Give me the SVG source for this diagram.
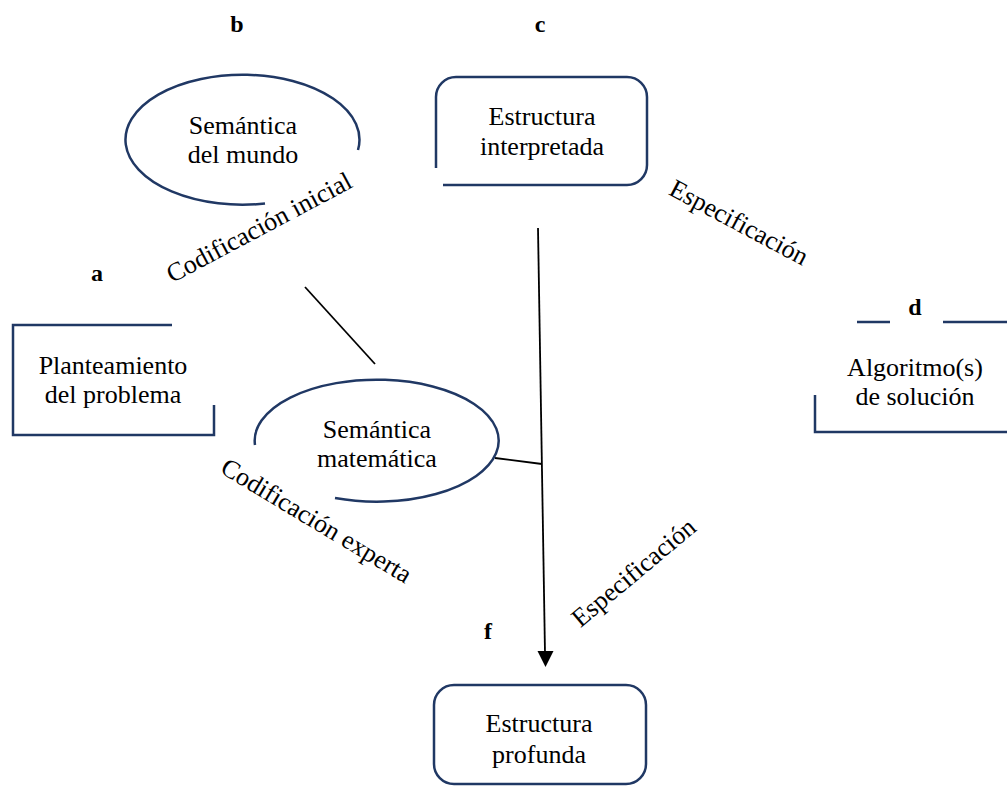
<svg xmlns="http://www.w3.org/2000/svg" width="1007" height="787" viewBox="0 0 1007 787" font-family="Liberation Serif, serif">
<style>
.shape{fill:none;stroke:#203864;stroke-width:2.5}
.conn{fill:none;stroke:#000;stroke-width:1.8}
.txt{font-family:'Liberation Serif',serif;font-size:26px;fill:#000;text-anchor:middle}
.lab{font-family:'Liberation Serif',serif;font-size:24px;font-weight:bold;fill:#000;text-anchor:middle}
</style>
<rect width="1007" height="787" fill="#fff"/>
<g id="connectors">
<line class="conn" x1="305" y1="287" x2="375" y2="364"/>
<line class="conn" x1="495" y1="458" x2="542" y2="464"/>
<line class="conn" x1="538" y1="228" x2="545" y2="653"/>
<polygon points="537.5,651 553.5,651 545.5,667" fill="#000"/>
<text class="txt" font-family="Liberation Serif" transform="translate(263,235) rotate(-28)">Codificación inicial</text>
<text class="txt" font-family="Liberation Serif" transform="translate(735,230) rotate(28)">Especificación</text>
<text class="txt" font-family="Liberation Serif" transform="translate(312,528) rotate(31)">Codificación experta</text>
<text class="txt" font-family="Liberation Serif" transform="translate(639,579) rotate(-40)">Especificación</text>
</g>
<g id="node-a">
<path class="shape" d="M172,325 H13 V435 H214 V405"/>
<text class="lab" font-family="Liberation Serif" x="97" y="281">a</text>
<text class="txt" font-family="Liberation Serif" x="113" y="374">Planteamiento</text>
<text class="txt" font-family="Liberation Serif" x="113" y="403">del problema</text>
</g>
<g id="node-b">
<path class="shape" d="M358,150 A117,65 0 1 0 265,203.5"/>
<text class="lab" font-family="Liberation Serif" x="237" y="32">b</text>
<text class="txt" font-family="Liberation Serif" x="243" y="134">Semántica</text>
<text class="txt" font-family="Liberation Serif" x="243" y="163">del mundo</text>
</g>
<g id="node-c">
<path class="shape" d="M443,185 H627 A20,20 0 0 0 647,165 V97 A20,20 0 0 0 627,77 H456 A20,20 0 0 0 436,97 V168"/>
<text class="lab" font-family="Liberation Serif" x="540" y="32">c</text>
<text class="txt" font-family="Liberation Serif" x="542" y="125">Estructura</text>
<text class="txt" font-family="Liberation Serif" x="542" y="155">interpretada</text>
</g>
<g id="node-d">
<path class="shape" d="M857,322 H890 M943,322 H1007 M815,395 V432 H1007"/>
<text class="lab" font-family="Liberation Serif" x="915" y="315">d</text>
<text class="txt" font-family="Liberation Serif" x="915" y="376">Algoritmo(s)</text>
<text class="txt" font-family="Liberation Serif" x="915" y="405">de solución</text>
</g>
<g id="node-e">
<path class="shape" d="M255,445 A122,61 0 1 1 335,498"/>
<text class="txt" font-family="Liberation Serif" x="377" y="438">Semántica</text>
<text class="txt" font-family="Liberation Serif" x="377" y="467">matemática</text>
</g>
<g id="node-f">
<rect class="shape" x="434" y="685" width="212" height="99" rx="20" ry="20"/>
<text class="lab" font-family="Liberation Serif" x="488" y="639">f</text>
<text class="txt" font-family="Liberation Serif" x="539" y="732">Estructura</text>
<text class="txt" font-family="Liberation Serif" x="539" y="763">profunda</text>
</g>
</svg>
